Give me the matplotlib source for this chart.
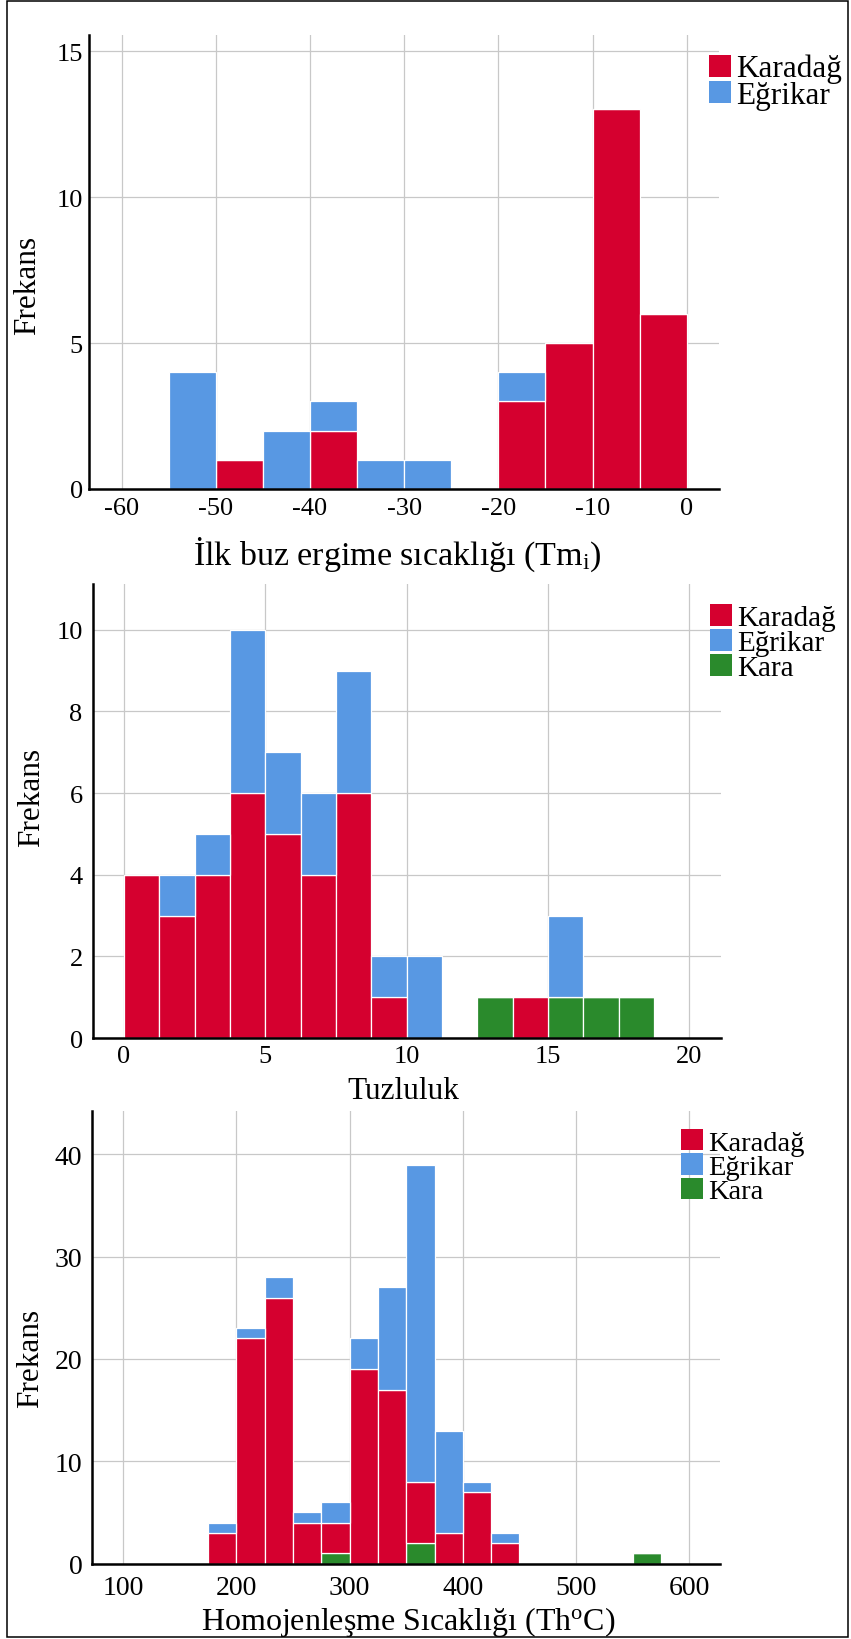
import matplotlib
matplotlib.use("Agg")
import matplotlib.pyplot as plt
from matplotlib.patches import Rectangle, Patch

plt.rcParams['font.family'] = ['Liberation Serif', 'DejaVu Serif']
plt.rcParams['mathtext.fontset'] = 'custom'
plt.rcParams['mathtext.rm'] = 'Liberation Serif'
plt.rcParams['mathtext.it'] = 'Liberation Serif:italic'

# ---------------- data ----------------
series_names = ["Karadağ", "Eğrikar", "Kara"]

# Panel 1: first ice melting temperature, bins of width 5
tm_bin_left = [-55, -50, -45, -40, -35, -30, -25, -20, -15, -10, -5]
tm_bin_width = 5
tm_karadag = [0, 1, 0, 2, 0, 0, 0, 3, 5, 13, 6]
tm_egrikar = [4, 0, 2, 1, 1, 1, 0, 1, 0, 0, 0]
tm_xticks = [-60, -50, -40, -30, -20, -10, 0]
tm_yticks = [0, 5, 10, 15]

# Panel 2: salinity, bins of width 1.25
sal_bin_left = [0, 1.25, 2.5, 3.75, 5, 6.25, 7.5, 8.75, 10, 11.25, 12.5, 13.75, 15, 16.25, 17.5]
sal_bin_width = 1.25
sal_karadag = [4, 3, 4, 6, 5, 4, 6, 1, 0, 0, 0, 1, 0, 0, 0]
sal_egrikar = [0, 1, 1, 4, 2, 2, 3, 1, 2, 0, 0, 0, 2, 0, 0]
sal_kara = [0, 0, 0, 0, 0, 0, 0, 0, 0, 0, 1, 0, 1, 1, 1]
sal_xticks = [0, 5, 10, 15, 20]
sal_yticks = [0, 2, 4, 6, 8, 10]

# Panel 3: homogenisation temperature, bins of width 25
th_bin_left = [175, 200, 225, 250, 275, 300, 325, 350, 375, 400, 425, 450, 475, 500, 525, 550]
th_bin_width = 25
th_karadag = [3, 22, 26, 4, 3, 19, 17, 6, 3, 7, 2, 0, 0, 0, 0, 0]
th_egrikar = [1, 1, 2, 1, 2, 3, 10, 31, 10, 1, 1, 0, 0, 0, 0, 0]
th_kara = [0, 0, 0, 0, 1, 0, 0, 2, 0, 0, 0, 0, 0, 0, 0, 1]
th_xticks = [100, 200, 300, 400, 500, 600]
th_yticks = [0, 10, 20, 30, 40]

# ---------------- style ----------------
C_KARADAG = "#D5002F"
C_EGRIKAR = "#5898E3"
C_KARA = "#2A8A2C"
GRID = "#C8C8C8"

W, H = 851, 1640
fig = plt.figure(figsize=(W / 100, H / 100), dpi=100)


def axes_px(l, t, r, b):
    return fig.add_axes([l / W, 1 - b / H, (r - l) / W, (b - t) / H])


def style_axes(ax, xlim, ylim, xticks, yticks, tick_fs, xpad, ypad):
    ax.set_xlim(*xlim)
    ax.set_ylim(*ylim)
    ax.set_xticks(xticks)
    ax.set_yticks(yticks)
    ax.set_xticklabels([str(v) for v in xticks])
    ax.set_yticklabels([str(v) for v in yticks])
    for s in ["top", "right"]:
        ax.spines[s].set_visible(False)
    for s in ["left", "bottom"]:
        ax.spines[s].set_linewidth(1.8)
        ax.spines[s].set_color("black")
        ax.spines[s].set_zorder(5)
    ax.tick_params(axis="x", length=0, labelsize=tick_fs, pad=xpad)
    ax.tick_params(axis="y", length=0, labelsize=tick_fs, pad=ypad)
    ax.grid(True, color=GRID, linewidth=0.9)
    ax.set_axisbelow(True)


def stacked(ax, lefts, width, layers):
    bottom = [0] * len(lefts)
    for vals, col in layers:
        ax.bar(lefts, vals, width=width, bottom=bottom, align="edge",
               color=col, edgecolor="white", linewidth=0.9, zorder=3)
        bottom = [b + v for b, v in zip(bottom, vals)]


def legend(ax, cols, labels, x, y, fs, hl, hh, ls, htp):
    handles = [Patch(facecolor=c, edgecolor="none") for c in cols]
    ax.legend(handles, labels, loc="upper left",
              bbox_to_anchor=(x / W, 1 - y / H), bbox_transform=fig.transFigure,
              frameon=False, borderpad=0, borderaxespad=0, fontsize=fs,
              handlelength=hl, handleheight=hh, labelspacing=ls,
              handletextpad=htp)


# ---------------- panel 1 ----------------
ax1 = axes_px(89.3, 35.7, 719, 490)
stacked(ax1, tm_bin_left, tm_bin_width,
        [(tm_karadag, C_KARADAG), (tm_egrikar, C_EGRIKAR)])
style_axes(ax1, (-63.44, 3.43), (0, 15.56), tm_xticks, tm_yticks, 19, 5.8, 4.8)
ax1.set_xlabel("İlk buz ergime sıcaklığı (Tm$_{\\mathregular{i}}$)", fontsize=24.5)
ax1.xaxis.set_label_coords(0.489, (490 - 565) / 454.3)
ax1.xaxis.label.set_va("baseline")
ax1.set_ylabel("Frekans", fontsize=22.5)
ax1.yaxis.set_label_coords(-0.098, 0.451)
ax1.yaxis.label.set_va("center")
legend(ax1, [C_KARADAG, C_EGRIKAR], series_names[:2], 709, 55, 22.5, 0.71, 0.71, -0.07, 0.17)

# ---------------- panel 2 ----------------
ax2 = axes_px(92.7, 585, 720.8, 1039)
stacked(ax2, sal_bin_left, sal_bin_width,
        [(sal_kara, C_KARA), (sal_karadag, C_KARADAG), (sal_egrikar, C_EGRIKAR)])
style_axes(ax2, (-1.107, 21.11), (0, 11.12), sal_xticks, sal_yticks, 19, 5.2, 7.2)
ax2.set_xlabel("Tuzluluk", fontsize=22.5)
ax2.xaxis.set_label_coords(0.4948, (1039 - 1099) / 454)
ax2.xaxis.label.set_va("baseline")
ax2.set_ylabel("Frekans", fontsize=22.5)
ax2.yaxis.set_label_coords(-0.0966, 0.531)
ax2.yaxis.label.set_va("center")
legend(ax2, [C_KARADAG, C_EGRIKAR, C_KARA], series_names, 710, 605, 21, 0.77, 0.76, -0.06, 0.17)

# ---------------- panel 3 ----------------
ax3 = axes_px(91.7, 1111.7, 719.7, 1564.5)
stacked(ax3, th_bin_left, th_bin_width,
        [(th_kara, C_KARA), (th_karadag, C_KARADAG), (th_egrikar, C_EGRIKAR)])
style_axes(ax3, (72.1, 626.9), (0, 44.26), th_xticks, th_yticks, 20, 8.2, 6.8)
ax3.set_xlabel("Homojenleşme Sıcaklığı (Th$^{\\mathregular{o}}$C)", fontsize=23)
ax3.xaxis.set_label_coords(0.5037, (1564.5 - 1630) / 452.8)
ax3.xaxis.label.set_va("baseline")
ax3.set_ylabel("Frekans", fontsize=22.5)
ax3.yaxis.set_label_coords(-0.0975, 0.456)
ax3.yaxis.label.set_va("center")
legend(ax3, [C_KARADAG, C_EGRIKAR, C_KARA], series_names, 681, 1130, 20.5, 0.78, 0.78, -0.08, 0.17)

# outer frame
fig.patches.append(Rectangle((6.5 / W, 1 - 1638 / H), (847.5 - 6.5) / W, (1638 - 2) / H,
                             transform=fig.transFigure, fill=False,
                             edgecolor="black", linewidth=1.1))

fig.savefig("out.png", dpi=100)
